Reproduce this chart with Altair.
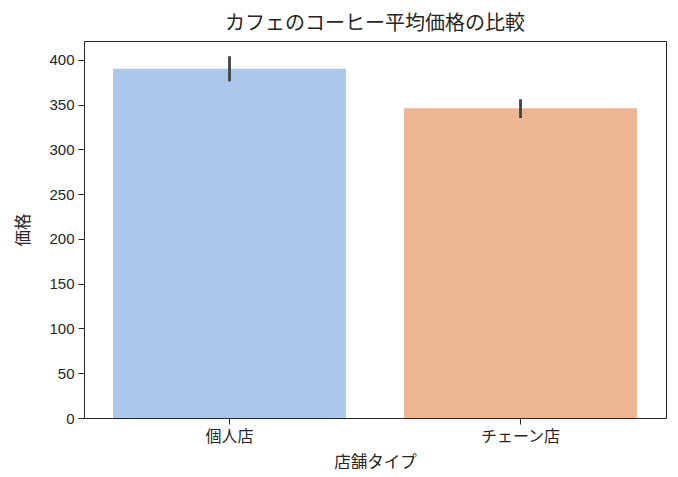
import altair as alt
import pandas as pd

categories = ["個人店", "チェーン店"]
means = [390, 346]
err_low = [376, 335]
err_high = [404, 356]
colors = ["#abc7eb", "#efb693"]

df = pd.DataFrame({"type": categories, "price": means, "lo": err_low, "hi": err_high})

FONT = "Liberation Sans, Noto Sans CJK JP, sans-serif"
TXT = "#262626"

x = alt.X("type:N", sort=categories, title="店舗タイプ",
          scale=alt.Scale(paddingInner=0.2, paddingOuter=0.1),
          axis=alt.Axis(labelAngle=0, labelFontSize=16, titleFontSize=16.5,
                        labelColor=TXT, titleColor=TXT,
                        domainColor="#262626", tickColor="#262626", tickSize=6,
                        labelPadding=4, titlePadding=10, labelFont=FONT, titleFont=FONT,
                        titleFontWeight="normal"))

bars = alt.Chart(df).mark_bar().encode(
    x=x,
    y=alt.Y("price:Q", title="価格",
            scale=alt.Scale(domain=[0, 421], nice=False),
            axis=alt.Axis(values=list(range(0, 401, 50)), grid=False,
                          labelFontSize=15, titleFontSize=16.5,
                          labelColor=TXT, titleColor=TXT,
                          domainColor="#262626", tickColor="#262626", tickSize=6,
                          labelPadding=4, titlePadding=17, labelFont=FONT,
                          titleFont=FONT, titleFontWeight="normal")),
    color=alt.Color("type:N", sort=categories,
                    scale=alt.Scale(domain=categories, range=colors), legend=None),
)

errs = alt.Chart(df).mark_rule(color="#424242", strokeWidth=2.8).encode(
    x=alt.X("type:N", sort=categories),
    y="lo:Q",
    y2="hi:Q",
)

chart = (bars + errs).properties(
    width=582, height=377,
    title=alt.TitleParams("カフェのコーヒー平均価格の比較", font=FONT, fontSize=20,
                          fontWeight="normal", color=TXT, offset=7),
    autosize=alt.AutoSizeParams(type="none"),
    padding={"left": 76, "top": 33, "right": 4, "bottom": 51},
).configure_view(stroke="#262626", strokeWidth=1)

chart.save("out.html", embed_options={"renderer": "svg", "actions": False})
